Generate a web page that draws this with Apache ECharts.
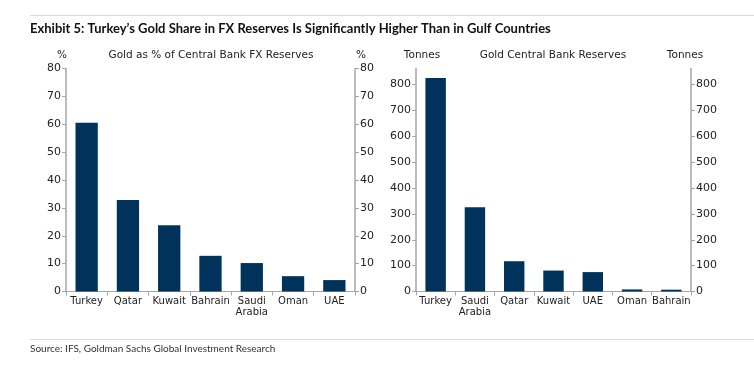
<!DOCTYPE html>
<html><head><meta charset="utf-8">
<script src="https://cdn.jsdelivr.net/npm/echarts@6/dist/echarts.min.js"></script>
<style>html,body{margin:0;padding:0;background:#fff}#c{width:754px;height:367px}</style>
</head><body><div id="c"></div>
<script>
const leftCategories = ['Turkey','Qatar','Kuwait','Bahrain','Saudi\nArabia','Oman','UAE'];
const leftValues = [60.5, 32.8, 23.8, 12.8, 10.2, 5.5, 4.1];
const rightCategories = ['Turkey','Saudi\nArabia','Qatar','Kuwait','UAE','Oman','Bahrain'];
const rightValues = [825, 326, 117, 81, 75, 8, 7];
const leftTicks = [0,10,20,30,40,50,60,70,80];
const rightTicks = [0,100,200,300,400,500,600,700,800];

const barColor = '#00335b';
const axisColor = '#a6a6a6';
const textColor = '#222';
const font = 'DejaVu Sans';

function catAxis(gridIndex, data){
  return {type:'category', gridIndex, data,
    axisLine:{lineStyle:{color:axisColor,width:1}},
    axisTick:{show:true,length:4,lineStyle:{color:axisColor}},
    axisLabel:{color:textColor,fontFamily:font,fontSize:10,margin:4,lineHeight:11,interval:0}};
}
function valAxis(gridIndex, max, interval, ticks, pos){
  return {type:'value', gridIndex, min:0, max, interval, position:pos,
    axisLine:{show:true,lineStyle:{color:axisColor,width:1.5}},
    axisTick:{show:true,length:4,lineStyle:{color:axisColor},customValues:ticks},
    axisLabel:{color:textColor,fontFamily:font,fontSize:11,margin:5,customValues:ticks},
    splitLine:{show:false}};
}
const chart = echarts.init(document.getElementById('c'), null, {renderer:'canvas'});
const tStyle = {color:textColor,fontFamily:font,fontSize:10.5,fontWeight:'normal'};
function t(text,left,top,align,style){return {text,left,top,textAlign:align,padding:0,textStyle:style};}
chart.setOption({
  animation:false,
  grid:[
    {left:66, top:68.5, width:289, height:223},
    {left:416, top:68.5, width:275, height:223}
  ],
  title:[
    t('Exhibit 5: Turkey\u2019s Gold Share in FX Reserves Is Significantly Higher Than in Gulf Countries',30,22,'left',
      {color:'#111',fontFamily:'Lato',fontSize:13,fontWeight:'bold'}),
    t('%',62,50,'center',tStyle),
    t('Gold as % of Central Bank FX Reserves',211,50,'center',tStyle),
    t('%',361,50,'center',tStyle),
    t('Tonnes',422,50,'center',tStyle),
    t('Gold Central Bank Reserves',553,50,'center',tStyle),
    t('Tonnes',685,50,'center',tStyle),
    t('Source: IFS, Goldman Sachs Global Investment Research',30,344,'left',
      {color:'#333',fontFamily:'Lato',fontSize:10,fontWeight:'normal'})
  ],
  graphic:[
    {type:'line', shape:{x1:30,y1:15.5,x2:754,y2:15.5}, style:{stroke:'#d9d9d9',lineWidth:1}},
    {type:'line', shape:{x1:30,y1:339.5,x2:754,y2:339.5}, style:{stroke:'#d9d9d9',lineWidth:1}}
  ],
  xAxis:[catAxis(0,leftCategories), catAxis(1,rightCategories)],
  yAxis:[
    valAxis(0,80,10,leftTicks,'left'),
    valAxis(0,80,10,leftTicks,'right'),
    valAxis(1,862,100,rightTicks,'left'),
    valAxis(1,862,100,rightTicks,'right')
  ],
  series:[
    {type:'bar', xAxisIndex:0, yAxisIndex:0, data:leftValues, barWidth:'54%', itemStyle:{color:barColor}},
    {type:'bar', xAxisIndex:1, yAxisIndex:2, data:rightValues, barWidth:'52%', itemStyle:{color:barColor}}
  ]
});
</script></body></html>
